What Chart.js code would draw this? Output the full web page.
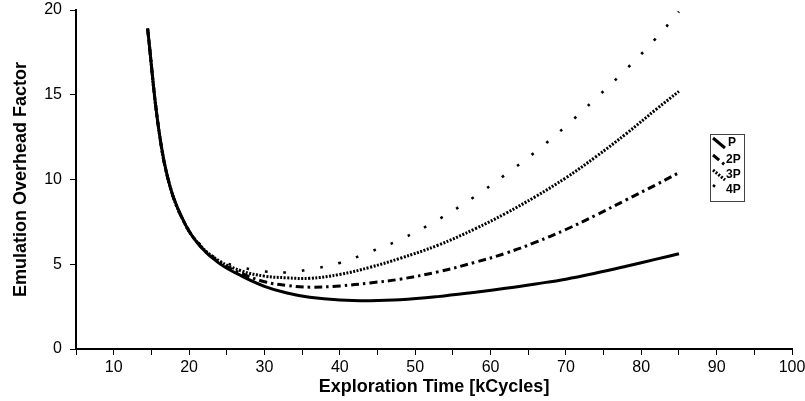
<!DOCTYPE html>
<html>
<head>
<meta charset="utf-8">
<script src="https://cdn.jsdelivr.net/npm/chart.js@4.4.0/dist/chart.umd.min.js"></script>
<style>
  html, body { margin: 0; padding: 0; background: #fff; }
  #wrap { width: 805px; height: 401px; }
</style>
</head>
<body>
<div id="wrap"><canvas id="chart"></canvas></div>
<script>
// exploration time, kCycles
const xValues = [14.5, 16, 17.5, 19.5, 21.5, 24, 27, 30, 33, 36, 40, 44, 48, 53, 58, 62, 66, 70, 74, 78, 82, 85];
// emulation overhead factor per series
const pValues  = [18.9, 12.9, 9.55, 7.35, 6.05, 5.05, 4.3, 3.7, 3.3, 3.05, 2.89, 2.85, 2.9, 3.09, 3.35, 3.58, 3.84, 4.12, 4.48, 4.88, 5.3, 5.62];
const p2Values = [18.9, 12.9, 9.55, 7.35, 6.08, 5.12, 4.45, 3.97, 3.75, 3.65, 3.72, 3.9, 4.12, 4.55, 5.12, 5.65, 6.3, 7.05, 7.9, 8.8, 9.7, 10.4];
const p3Values = [18.9, 12.9, 9.55, 7.35, 6.1, 5.2, 4.6, 4.3, 4.2, 4.17, 4.4, 4.82, 5.35, 6.12, 7.1, 8.0, 9.0, 10.1, 11.35, 12.7, 14.15, 15.2];
const p4Values = [18.9, 12.9, 9.55, 7.38, 6.15, 5.25, 4.82, 4.58, 4.52, 4.7, 5.08, 5.73, 6.45, 7.62, 9.02, 10.3, 11.65, 13.15, 14.8, 16.5, 18.35, 19.9];
const seriesLabels = ["P", "2P", "3P", "4P"];

const FONT = "'Liberation Sans', Arial, sans-serif";

function toPoints(vals) {
  return vals.map((v, i) => ({ x: xValues[i], y: v }));
}

const styles = [
  { borderWidth: 3, borderDash: [] },
  { borderWidth: 3, borderDash: [8, 4, 2.5, 4] },
  { borderWidth: 3, borderDash: [2, 1.5] },
  { borderWidth: 2.6, borderDash: [2.6, 16] },
];

const datasets = [pValues, p2Values, p3Values, p4Values].map((vals, i) => ({
  label: seriesLabels[i],
  data: toPoints(vals),
  borderColor: "#000",
  borderWidth: styles[i].borderWidth,
  borderDash: styles[i].borderDash,
  borderCapStyle: "butt",
  pointRadius: 0,
  fill: false,
  tension: 0.4,
}));

// small boxed legend on the right
const boxLegend = {
  id: "boxLegend",
  afterDraw(chart) {
    const ctx = chart.ctx;
    ctx.save();
    ctx.strokeStyle = "#444";
    ctx.lineWidth = 1;
    ctx.strokeRect(710.5, 134.5, 34, 67);
    const rows = [143, 160, 175, 190];
    chart.data.datasets.forEach((ds, i) => {
      const y = rows[i];
      ctx.strokeStyle = "#000";
      ctx.lineWidth = ds.borderWidth;
      ctx.setLineDash(ds.borderDash);
      ctx.beginPath();
      ctx.moveTo(713, y - 5);
      ctx.lineTo(725, y + 5);
      ctx.stroke();
      ctx.setLineDash([]);
      ctx.fillStyle = "#000";
      ctx.font = "bold 12px " + FONT;
      ctx.textBaseline = "middle";
      ctx.fillText(ds.label, i === 0 ? 728 : 726, y);
    });
    ctx.restore();
  },
};

new Chart(document.getElementById("chart"), {
  type: "line",
  data: { datasets: datasets },
  options: {
    responsive: true,
    maintainAspectRatio: false,
    animation: false,
    layout: { padding: 0 },
    plugins: {
      legend: { display: false },
      tooltip: { enabled: false },
    },
    scales: {
      x: {
        type: "linear",
        min: 5,
        max: 100,
        border: { display: true, color: "#000", width: 2 },
        grid: { drawOnChartArea: false, drawTicks: true, tickLength: 6, color: "#000" },
        ticks: {
          stepSize: 5,
          autoSkip: false,
          maxRotation: 0,
          color: "#000",
          padding: 3,
          font: { family: FONT, size: 16 },
          callback: (v) => (v % 10 === 0 ? v : ""),
        },
        title: {
          display: true,
          text: "Exploration Time [kCycles]",
          color: "#000",
          font: { family: FONT, size: 18, weight: "bold" },
          padding: { top: 0, bottom: 3 },
        },
        afterFit(scale) {
          scale.height = 52;
          scale.paddingRight = 13;
        },
      },
      y: {
        min: 0,
        max: 20,
        border: { display: true, color: "#000", width: 2 },
        grid: { drawOnChartArea: false, drawTicks: true, tickLength: 6, color: "#000" },
        ticks: {
          stepSize: 5,
          color: "#000",
          padding: 8,
          font: { family: FONT, size: 16 },
        },
        title: {
          display: true,
          text: "Emulation Overhead Factor",
          color: "#000",
          font: { family: FONT, size: 18, weight: "bold" },
          padding: { top: 10, bottom: 0 },
        },
        afterFit(scale) {
          scale.width = 76;
          scale.paddingTop = 10;
        },
      },
    },
  },
  plugins: [boxLegend],
});
</script>
</body>
</html>
